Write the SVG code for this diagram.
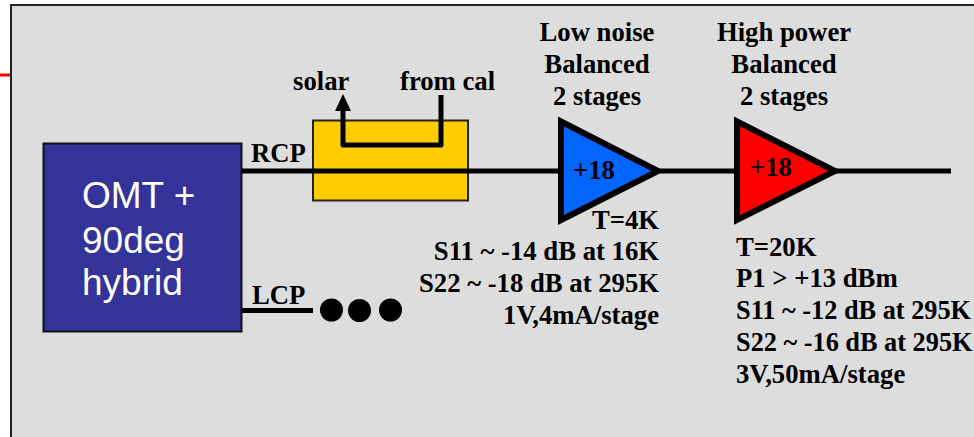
<svg xmlns="http://www.w3.org/2000/svg" width="974" height="437" viewBox="0 0 974 437">
<style>
.t{font-family:"Liberation Serif","Times New Roman",serif;font-weight:bold;font-size:26.700px;fill:#000}
.n{font-size:26.300px}
.s{font-family:"Liberation Sans",Arial,sans-serif;font-size:37px;fill:#fff}
.m{text-anchor:middle}.e{text-anchor:end}
.c{fill:none;stroke:#000;stroke-width:5}
</style>
<defs><marker id="a" markerUnits="userSpaceOnUse" markerWidth="17" markerHeight="16" refX="0" refY="8" orient="auto" viewBox="0 0 17 16"><path d="M0 0L17 8L0 16Z" fill="#000"/></marker></defs>
<rect width="974" height="437" fill="#fff"/>
<rect id="panel" x="11" y="5" width="975" height="445" fill="#ddd" stroke="#222" stroke-width="2"/>
<path id="red-stub" d="M0 75H10" stroke="#f00" stroke-width="3"/>
<g id="attenuator"><rect x="313" y="120.500" width="155" height="80" fill="#fc0" stroke="#222" stroke-width="2"/></g>
<g id="connectors">
<path class="c" d="M242 171H558"/>
<path class="c" d="M660 171H738"/>
<path class="c" d="M836 171H951"/>
<path class="c" d="M242 310.500H313"/>
<path class="c" d="M441 95V145H343V111" marker-end="url(#a)" stroke-linejoin="round"/>
</g>
<g id="omt"><rect x="43.500" y="143.500" width="198" height="188" fill="#339" stroke="#111" stroke-width="2"/>
<text class="s" x="82" y="208">OMT +</text><text class="s" x="82" y="253">90deg</text><text class="s" x="82" y="295">hybrid</text></g>
<g id="lna"><path d="M561 121.500L658 171L561 220Z" fill="#06f" stroke="#000" stroke-width="6"/><text class="t" x="573" y="179">+18</text></g>
<g id="hpa"><path d="M737 121.500L835 171L737 220Z" fill="#f00" stroke="#000" stroke-width="6"/><text class="t" x="750" y="176">+18</text></g>
<g id="dots"><circle cx="331.500" cy="310" r="11.500"/><circle cx="359.500" cy="310.500" r="11.500"/><circle cx="390.500" cy="310" r="11.500"/></g>
<g id="labels">
<text class="t" x="251" y="162">RCP</text><text class="t" x="252" y="304">LCP</text>
<text class="t" x="293" y="90">solar</text><text class="t" x="400" y="90">from cal</text>
<text class="t m" x="597" y="41">Low noise</text><text class="t m" x="597" y="73">Balanced</text><text class="t m" x="597" y="105">2 stages</text>
<text class="t m" x="784" y="41">High power</text><text class="t m" x="784" y="73">Balanced</text><text class="t m" x="784" y="105">2 stages</text>
<text class="t e" x="659" y="229">T=4K</text><text class="t e" x="659" y="260">S11 ~ -14 dB at 16K</text><text class="t e" x="659" y="292">S22 ~ -18 dB at 295K</text><text class="t e" x="659" y="324">1V,4mA/stage</text>
<text class="t" x="736" y="256">T=20K</text><text class="t" x="736" y="287">P1 &gt; +13 dBm</text><text class="t n" x="736" y="319">S11 ~ -12 dB at 295K</text><text class="t n" x="736" y="351">S22 ~ -16 dB at 295K</text><text class="t" x="736" y="383">3V,50mA/stage</text>
</g>
</svg>
